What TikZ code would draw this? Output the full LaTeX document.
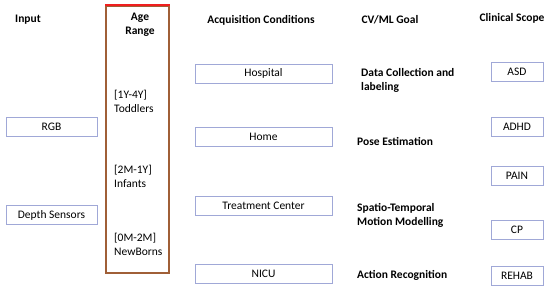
\documentclass[tikz,border=0pt]{standalone}
\usepackage{fontspec}
\setmainfont{Carlito}
\definecolor{boxc}{RGB}{160,168,215}
\definecolor{agec}{RGB}{160,95,55}
\definecolor{ager}{RGB}{240,30,30}
\begin{document}
\begin{tikzpicture}[x=1pt,y=-1pt,
  every node/.style={font=\fontsize{11.5}{14}\selectfont, inner sep=0pt},
  head/.style={font=\fontsize{11.5}{14}\selectfont\bfseries, align=center},
  goal/.style={font=\fontsize{11.5}{14}\selectfont\bfseries, align=left, anchor=west},
  agetxt/.style={align=left, anchor=west},
  ibox/.style={draw=boxc, line width=0.8pt, minimum height=19pt},
]
\useasboundingbox (0,0) rectangle (550,293);
% headers
\node[head] (hin) at (28,20) {Input};
\node[head] (hage) at (140,25) {Age\\Range};
\node[head] (hacq) at (261,20) {Acquisition Conditions};
\node[head] (hgoal) at (390,20) {CV/ML Goal};
\node[head] (hclin) at (512,18) {Clinical Scope};
% age range box
\node[draw=agec, line width=1.3pt, minimum width=63pt, minimum height=267pt] (agebox) at (137.5,139.5) {};
\fill[ager] ([xshift=-0.65pt,yshift=0.9pt]agebox.north west) rectangle ([xshift=0.65pt,yshift=-0.9pt]agebox.north east);
\node[agetxt] (a1) at (114,101) {[1Y-4Y]\\Toddlers};
\node[agetxt] (a2) at (114,176) {[2M-1Y]\\Infants};
\node[agetxt] (a3) at (114,244) {[0M-2M]\\NewBorns};
% input
\node[ibox, minimum width=91pt] (rgb) at (51.5,126.5) {RGB};
\node[ibox, minimum width=91pt] (depth) at (51.5,215) {Depth Sensors};
% acquisition
\node[ibox, minimum width=137pt] (hosp) at (263.5,73.5) {Hospital};
\node[ibox, minimum width=137pt] (home) at (263.5,136.5) {Home};
\node[ibox, minimum width=137pt] (treat) at (263.5,205.5) {Treatment Center};
\node[ibox, minimum width=137pt] (nicu) at (263.5,273.5) {NICU};
% goals
\node[goal] (g1) at (361,80) {Data Collection and\\labeling};
\node[goal] (g2) at (357,141) {Pose Estimation};
\node[goal] (g3) at (357,215) {Spatio-Temporal\\Motion Modelling};
\node[goal] (g4) at (357,275) {Action Recognition};
% clinical
\node[ibox, minimum width=52pt] (asd) at (517,71.5) {ASD};
\node[ibox, minimum width=52pt] (adhd) at (517,127) {ADHD};
\node[ibox, minimum width=52pt] (pain) at (517,176) {PAIN};
\node[ibox, minimum width=52pt] (cp) at (517,229.5) {CP};
\node[ibox, minimum width=52pt] (rehab) at (517,275.5) {REHAB};
\end{tikzpicture}
\end{document}
